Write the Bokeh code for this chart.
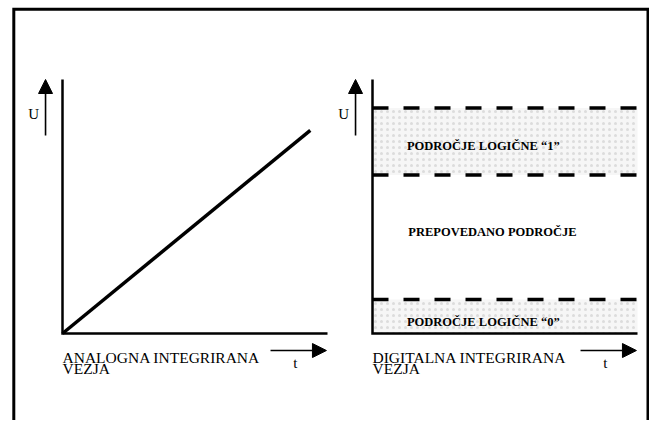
from bokeh.plotting import figure
from bokeh.models import Range1d, Arrow, NormalHead, Label
from bokeh.embed import file_html
from bokeh.resources import INLINE

# ---------------- data (panel units: t and U from 0 to 1) ----------------
axis_t = [0.0, 0.0, 1.0]            # L-shaped axes (t)
axis_u = [1.0, 0.0, 0.0]            # L-shaped axes (U)
analog_t = [0.0, 0.935]              # analog signal: rising straight line
analog_u = [0.0, 0.80]
logic1_low = 0.624                   # "1" band limits
logic1_high = 0.888
logic0_low = 0.0                     # "0" band limits
logic0_high = 0.134
band_texts = ["PODROČJE LOGIČNE “1”", "PREPOVEDANO PODROČJE", "PODROČJE LOGIČNE “0”"]
band_text_u = [0.740, 0.398, 0.045]
band_text_t = [0.13, 0.135, 0.13]
caption_analog = ["ANALOGNA INTEGRIRANA", "VEZJA"]
caption_digital = ["DIGITALNA INTEGRIRANA", "VEZJA"]
caption_u = [-0.0945, -0.138]
axis_name_u = "U"
axis_name_t = "t"

# ---------------- layout (pixels) ----------------
W, H = 649, 420
ORIGIN_A = 62.0     # x pixel of analog origin
ORIGIN_D = 372.0    # x pixel of digital origin
ORIGIN_Y = 333.0    # y pixel (from top) of both origins
SX = 265.0          # pixels per unit t
SY = 254.0          # pixels per unit U

FONT = "Liberation Serif"

p = figure(width=W, height=H, x_range=Range1d(0, W), y_range=Range1d(H, 0),
           output_backend="svg", toolbar_location=None, min_border=0,
           x_axis_location=None, y_axis_location=None,
           outline_line_color=None, background_fill_color="white",
           border_fill_color="white")
p.xgrid.visible = False
p.ygrid.visible = False

p.extra_x_ranges = {
    "ta": Range1d(-ORIGIN_A / SX, (W - ORIGIN_A) / SX),
    "td": Range1d(-ORIGIN_D / SX, (W - ORIGIN_D) / SX),
}
p.extra_y_ranges = {"u": Range1d((ORIGIN_Y - H) / SY, ORIGIN_Y / SY)}

# outer frame (open at the bottom)
FL, FT, FR = 13.3, 8.8, 647.5
p.line(x=[FL, FL, FR, FR], y=[H, FT, FT, H], line_color="black",
       line_width=3, line_join="miter")

# ---------------- digital panel bands ----------------
for lo, hi in [(logic1_low, logic1_high), (logic0_low, logic0_high)]:
    p.quad(left=0, right=1.0, bottom=lo, top=hi, x_range_name="td", y_range_name="u",
           fill_color="#f6f6f6", line_color=None,
           hatch_pattern="dot", hatch_color="#a0a0a0", hatch_scale=6,
           hatch_weight=1, hatch_alpha=0.3)

for lvl in [logic1_high, logic1_low, logic0_high]:
    p.line(x=[0, 1.0], y=[lvl, lvl], x_range_name="td", y_range_name="u",
           line_color="black", line_width=3.5, line_dash="16 15")

# ---------------- axes for both panels ----------------
for rn in ["ta", "td"]:
    p.line(x=axis_t, y=axis_u, x_range_name=rn, y_range_name="u",
           line_color="black", line_width=2.5, line_join="miter")

# analog signal
p.line(x=analog_t, y=analog_u, x_range_name="ta", y_range_name="u",
       line_color="black", line_width=3.5)

# ---------------- arrows and axis names ----------------
for rn in ["ta", "td"]:
    p.add_layout(Arrow(x_start=-0.064, y_start=0.78, x_end=-0.064, y_end=1.0,
                       x_range_name=rn, y_range_name="u", line_width=1.6,
                       end=NormalHead(size=14, fill_color="black", line_color="black")))
    p.add_layout(Arrow(x_start=0.785, y_start=-0.067, x_end=0.996, y_end=-0.067,
                       x_range_name=rn, y_range_name="u", line_width=1.6,
                       end=NormalHead(size=14, fill_color="black", line_color="black")))
    p.add_layout(Label(x=-0.109, y=0.866, text=axis_name_u, x_range_name=rn, y_range_name="u",
                       text_font=FONT, text_font_size="15px", text_align="center",
                       text_baseline="alphabetic", text_color="black"))
    p.add_layout(Label(x=0.879, y=-0.118, text=axis_name_t, x_range_name=rn, y_range_name="u",
                       text_font=FONT, text_font_size="15px", text_align="center",
                       text_baseline="alphabetic", text_color="black"))

# captions
for rn, lines in [("ta", caption_analog), ("td", caption_digital)]:
    for txt, u in zip(lines, caption_u):
        p.add_layout(Label(x=0.0, y=u, text=txt, x_range_name=rn, y_range_name="u",
                           text_font=FONT, text_font_size="15.5px", text_align="left",
                           text_baseline="alphabetic", text_color="black"))

# band texts
for txt, t, u in zip(band_texts, band_text_t, band_text_u):
    p.add_layout(Label(x=t, y=u, text=txt, x_range_name="td", y_range_name="u",
                       text_font=FONT, text_font_size="12.5px", text_font_style="bold",
                       text_align="left", text_baseline="alphabetic", text_color="black"))

open("out.html", "w").write(file_html(p, INLINE))
